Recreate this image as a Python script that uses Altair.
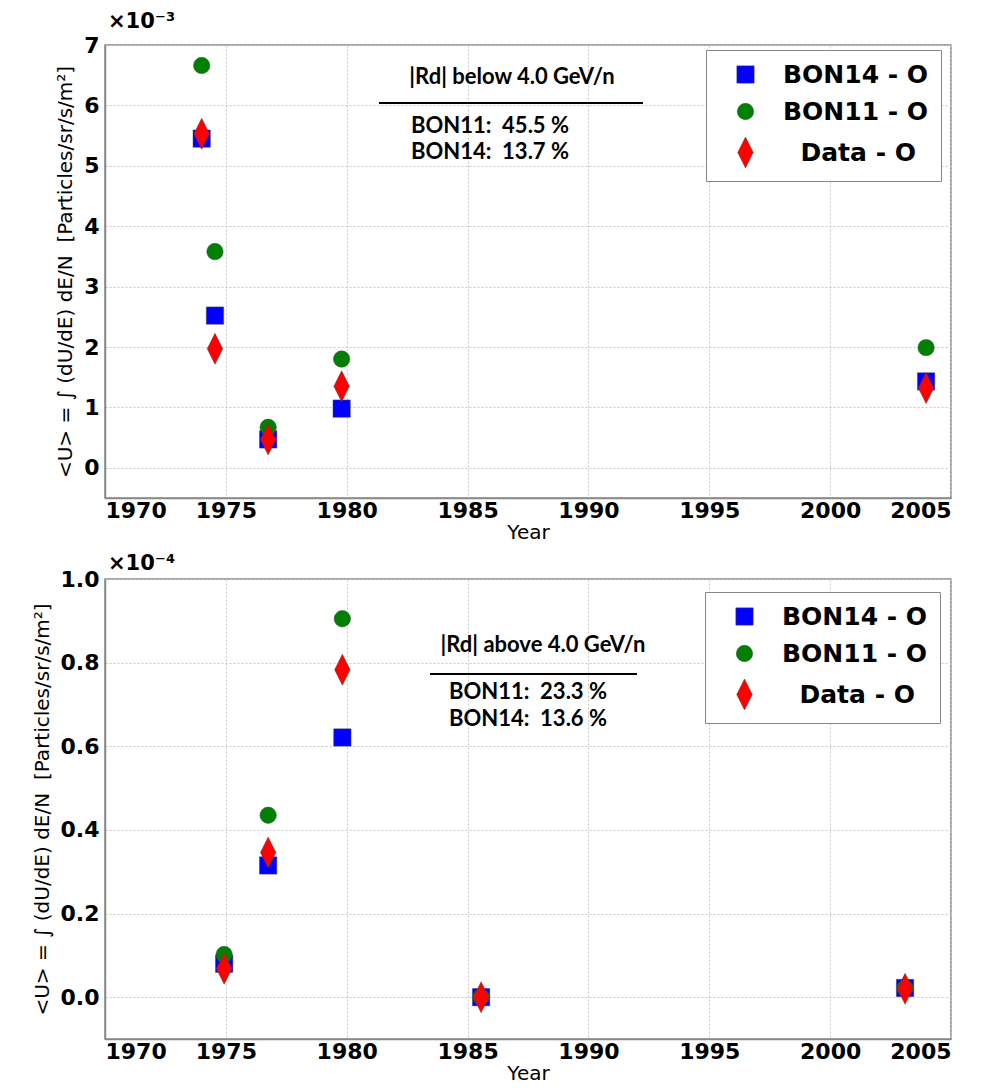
import altair as alt
import pandas as pd

series = ["BON14 - O", "BON11 - O", "Data - O"]
colors = ["#0000ff", "#008000", "#ff0000"]
shapes = ["square", "circle", "M0,-2L1,0L0,2L-1,0Z"]
sizes = [300, 240, 400]

# Top panel: |Rd| below 4.0 GeV/n (values in units of 1e-3)
top_years = [1974.0, 1974.55, 1976.75, 1979.79, 2003.97]
top_bon14 = [5.45, 2.52, 0.47, 0.98, 1.43]
top_bon11 = [6.66, 3.58, 0.67, 1.80, 1.99]
top_data = [5.53, 1.97, 0.47, 1.35, 1.32]

# Bottom panel: |Rd| above 4.0 GeV/n (values in units of 1e-4)
bot_years = [1974.93, 1976.75, 1979.82, 1985.56, 2003.1]
bot_bon14 = [0.080, 0.315, 0.621, 0.0, 0.022]
bot_bon11 = [0.102, 0.435, 0.905, 0.0, 0.022]
bot_data = [0.068, 0.346, 0.783, 0.0, 0.020]

x_ticks = [1970, 1975, 1980, 1985, 1990, 1995, 2000, 2005]
top_yticks = [0, 1, 2, 3, 4, 5, 6, 7]
bot_yticks = [0.0, 0.2, 0.4, 0.6, 0.8, 1.0]

NB = "\u00a0"
ytitle = "<U> = \u222b (dU/dE) dE/N" + NB * 2 + "[Particles/sr/s/m\u00b2]"

W = 846


def one(text):
    return pd.DataFrame({"t": [text]})


def panel(years, b14, b11, dat, ydom, yvals, yfmt, height, mult, mult_y, heading,
          r11, r14, leg_xy, ann):
    n = len(years)
    df = pd.DataFrame({
        "Year": years * 3,
        "value": b14 + b11 + dat,
        "series": [series[0]] * n + [series[1]] * n + [series[2]] * n,
    })
    pts = alt.Chart(df).mark_point(filled=True, opacity=1, stroke="#444444",
                                   strokeWidth=0.5).encode(
        x=alt.X("Year:Q", scale=alt.Scale(domain=[1970, 2005], nice=False, zero=False),
                axis=alt.Axis(values=x_ticks, format="d", title="Year",
                              labelPadding=2, titlePadding=1)),
        y=alt.Y("value:Q", scale=alt.Scale(domain=ydom, nice=False, zero=False),
                axis=alt.Axis(values=yvals, format=yfmt, title=ytitle)),
        color=alt.Color("series:N", sort=series,
                        scale=alt.Scale(domain=series, range=colors),
                        legend=alt.Legend(
                            orient="none", legendX=leg_xy[0], legendY=leg_xy[1],
                            title=None, labelFontSize=25, labelFont="DejaVu Sans",
                            labelFontWeight="bold", labelColor="black",
                            strokeColor="#888888", fillColor="white",
                            padding=12, rowPadding=11, symbolOffset=15,
                            labelOffset=25, symbolStrokeWidth=0.5,
                            labelExpr="indexof(datum.label, 'Data') >= 0 ? '\u200b\u2002\u2009' + datum.label : datum.label")),
        shape=alt.Shape("series:N", sort=series,
                        scale=alt.Scale(domain=series, range=shapes)),
        size=alt.Size("series:N", sort=series,
                      scale=alt.Scale(domain=series, range=sizes)),
    )
    ax, ay_head, rx1, rx2, ry, ay1, ay2, ax2 = ann
    hfont = dict(font="Lato", fontWeight="bold", fontSize=22, color="black",
                 align="center", baseline="middle")
    tfont = dict(font="Lato", fontWeight="bold", fontSize=22, color="black",
                 align="center", baseline="middle")
    head = alt.Chart(one(heading)).mark_text(**hfont).encode(
        text="t:N", x=alt.value(ax), y=alt.value(ay_head))
    rule = alt.Chart(one("r")).mark_rule(color="black", strokeWidth=2).encode(
        x=alt.value(rx1), x2=alt.value(rx2), y=alt.value(ry))
    l1 = alt.Chart(one("BON11:" + NB * 2 + r11 + " %")).mark_text(**tfont).encode(
        text="t:N", x=alt.value(ax2), y=alt.value(ay1))
    l2 = alt.Chart(one("BON14:" + NB * 2 + r14 + " %")).mark_text(**tfont).encode(
        text="t:N", x=alt.value(ax2), y=alt.value(ay2))
    mtxt = alt.Chart(one(mult)).mark_text(font="DejaVu Sans", fontWeight="bold",
                                          fontSize=21, align="left",
                                          baseline="alphabetic", color="black").encode(
        text="t:N", x=alt.value(3), y=alt.value(mult_y))
    return alt.layer(pts, head, rule, l1, l2, mtxt).properties(width=W, height=height)


top = panel(top_years, top_bon14, top_bon11, top_data, [-0.5, 7], top_yticks, "d",
            453, "\u00d710\u207b\u00b3", -17, "|Rd|" + NB + "below 4.0 GeV/n", "45.5", "13.7",
            (601, 5), (407, 32, 274, 538, 58, 81, 107, 385))
bot = panel(bot_years, bot_bon14, bot_bon11, bot_data, [-0.1, 1.0], bot_yticks, ".1f",
            460, "\u00d710\u207b\u2074", -9, "|Rd|" + NB + "above 4.0 GeV/n", "23.3", "13.6",
            (600, 13), (438, 66, 325, 532, 95, 113, 140, 423))

chart = alt.vconcat(top, bot, spacing=9).resolve_scale(
    color="independent", shape="independent", size="independent",
    x="independent", y="independent"
).resolve_legend(
    color="independent", shape="independent", size="independent"
).properties(
    padding={"left": 23, "top": 2, "right": 5, "bottom": 0}
).configure_view(
    stroke="#888888", strokeWidth=1.5
).configure_axis(
    labelFont="DejaVu Sans", labelFontWeight="bold", labelFontSize=22,
    labelColor="black", titleFont="DejaVu Sans", titleFontWeight="normal",
    titleFontSize=20, titleColor="black", domainColor="#888888", domainWidth=1.5,
    ticks=False, labelPadding=6, titlePadding=6,
    grid=True, gridColor="#c8c8c8", gridDash=[2, 2], gridWidth=1
).configure_axisY(
    titleFontSize=20, titlePadding=8
)

chart.save("out.html", embed_options={"renderer": "svg", "actions": False})
